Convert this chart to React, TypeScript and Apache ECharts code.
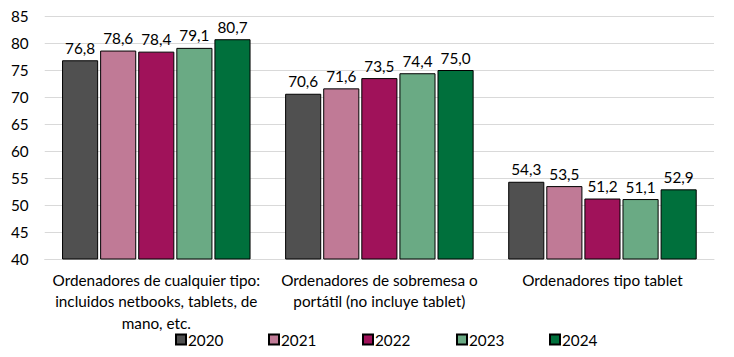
import React, { useEffect, useRef } from "react";
import * as echarts from "echarts";

const categories = [
  "Ordenadores de cualquier tipo:\nincluidos netbooks, tablets, de\nmano, etc.",
  "Ordenadores de sobremesa o\nportátil (no incluye tablet)",
  "Ordenadores tipo tablet",
];
const years = ["2020", "2021", "2022", "2023", "2024"];
const v2020 = [76.8, 70.6, 54.3];
const v2021 = [78.6, 71.6, 53.5];
const v2022 = [78.4, 73.5, 51.2];
const v2023 = [79.1, 74.4, 51.1];
const v2024 = [80.7, 75.0, 52.9];
const values = [v2020, v2021, v2022, v2023, v2024];
const colors = ["#505050", "#c07a96", "#a0125a", "#6aaa84", "#00703c"];
const legendLeft = [167, 260, 354, 448, 541];

const FONT = "Lato, 'Open Sans', sans-serif";
const FS = 15.3;

export default function App() {
  const ref = useRef<HTMLDivElement>(null);
  useEffect(() => {
    if (!ref.current) return;
    const chart = echarts.init(ref.current, null, { renderer: "svg" });
    chart.setOption({
      animation: false,
      textStyle: { fontFamily: FONT },
      grid: { left: 31, right: 20, top: 8, bottom: 98, containLabel: false },
      legend: years.map((y, i) => ({
        top: 324,
        left: legendLeft[i],
        itemGap: 0,
        itemWidth: 10,
        itemHeight: 10,
        padding: 0,
        icon: "rect",
        textStyle: { fontSize: FS, color: "#000", fontFamily: FONT, padding: [0, 0, 0, -3] },
        data: [y],
      })),
      xAxis: {
        type: "category",
        data: categories,
        axisLine: { lineStyle: { color: "#d9d9d9" } },
        axisTick: { show: false },
        axisLabel: {
          color: "#000",
          fontSize: FS,
          lineHeight: 21.5,
          margin: 10,
          interval: 0,
          fontFamily: FONT,
        },
      },
      yAxis: {
        type: "value",
        min: 40,
        max: 85,
        interval: 5,
        axisLine: { show: false },
        axisTick: { show: false },
        splitLine: { lineStyle: { color: "#d9d9d9" } },
        axisLabel: { color: "#000", fontSize: FS, margin: 16, fontFamily: FONT },
      },
      series: years.map((y, i) => ({
        name: y,
        type: "bar",
        data: values[i],
        barGap: "5.5%",
        barCategoryGap: "15.5%",
        itemStyle: { color: colors[i], borderColor: "#000", borderWidth: 1 },
        label: {
          show: true,
          position: "top",
          distance: 5,
          color: "#000",
          fontSize: FS,
          fontFamily: FONT,
          formatter: (p: any) => p.value.toFixed(1).replace(".", ","),
        },
      })),
    });
    return () => chart.dispose();
  }, []);
  return <div ref={ref} style={{ width: 726, height: 349 }} />;
}
